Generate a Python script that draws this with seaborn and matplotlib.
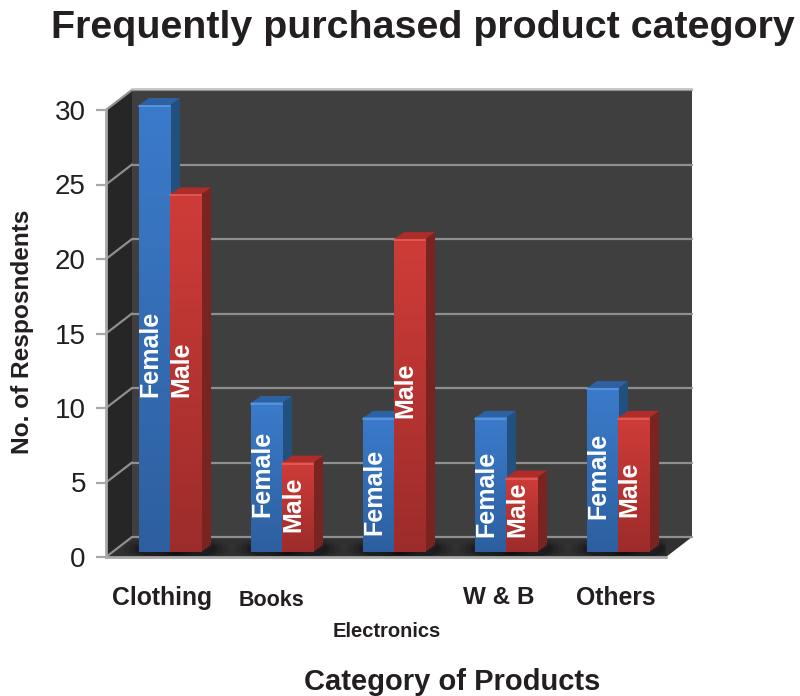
import numpy as np
import pandas as pd
import matplotlib
matplotlib.use("Agg")
import matplotlib.pyplot as plt
from matplotlib.colors import LinearSegmentedColormap
from matplotlib.patches import Polygon, Ellipse
from matplotlib.transforms import Affine2D, IdentityTransform
import seaborn as sns

categories = ["Clothing", "Books", "Electronics", "W & B", "Others"]
female = [30, 10, 9, 9, 11]
male = [24, 6, 21, 5, 9]
female_label_base = [10.4, 2.35, 1.15, 1.0, 2.2]
male_label_base = [10.4, 1.35, 9.0, 1.0, 2.35]
yticks = [0, 5, 10, 15, 20, 25, 30]

sns.set_theme(style="white")
plt.rcParams["font.family"] = ["Liberation Sans", "DejaVu Sans"]
W, H = 800, 696
fig = plt.figure(figsize=(W / 100, H / 100), dpi=100, facecolor="white")
# front plane of the 3-D box, given in image pixels
L, R, T, B = 106, 666, 110, 557
ax = fig.add_axes([L / W, 1 - B / H, (R - L) / W, (B - T) / H])
ax.patch.set_alpha(0)

df = pd.DataFrame({
    "category": categories * 2,
    "gender": ["Female"] * 5 + ["Male"] * 5,
    "value": female + male,
})
sns.barplot(data=df, x="category", y="value", hue="gender", hue_order=["Female", "Male"],
            palette=["#3570b8", "#c23531"], width=0.555, gap=0, saturation=1,
            legend=False, ax=ax, zorder=3, linewidth=0)
bars = list(ax.patches)
ax.set_xlim(-0.5, 4.5)
ax.set_ylim(0, 30)

DX, DY = 26, 20        # depth of the box
BX, BY = 8, 5          # bars stand this far inside the box
SX, SY = 10, 7         # depth of each bar
bar_off = ax.transData + Affine2D().translate(BX, BY)
label_off = ax.transData + Affine2D().translate(BX - 4, BY)
ident = IdentityTransform()


def poly(pts, color, z, **kw):
    patch = Polygon(pts, closed=True, facecolor=color, edgecolor="none", linewidth=0,
                    transform=ident, zorder=z, clip_on=False, **kw)
    ax.add_patch(patch)
    return patch


def disp(x, y):
    return ax.transData.transform((x, y))


x0, x1 = ax.get_xlim()
bl, br = disp(x0, 0), disp(x1, 0)
tl = disp(x0, 30)
d = np.array([DX, DY])
poly([bl, bl + d, tl + d, tl], "#262626", 0.5)                 # side wall
poly([bl + d, br + d, disp(x1, 30) + d, tl + d], "#3f3f3f", 0.5)  # back wall
floor = poly([bl, br, br + d, bl + d], "#303030", 0.6)         # floor

for v in yticks:
    a = disp(x0, v)
    b = disp(x1, v)
    col = "#8f8f8f"
    ax.plot([a[0] + DX, b[0] + DX], [a[1] + DY, b[1] + DY], color=col, lw=1.6,
            transform=ident, zorder=0.8, clip_on=False)
    ax.plot([a[0], a[0] + DX], [a[1], a[1] + DY], color=col, lw=1.6,
            transform=ident, zorder=0.8, clip_on=False)
ax.plot([tl[0] + DX, disp(x1, 30)[0] + DX], [tl[1] + DY + 1] * 2, color="#c8c8c8", lw=1.4,
        transform=ident, zorder=0.9, clip_on=False)

cm_b = LinearSegmentedColormap.from_list("b", ["#2d5f9f", "#3b7bcb"])
cm_r = LinearSegmentedColormap.from_list("r", ["#9c2c2a", "#cf3c38"])
grad = np.linspace(1, 0, 256).reshape(-1, 1)

n = len(categories)
for i, p in enumerate(bars):
    is_f = i < n
    p.set_transform(bar_off)
    p.set_clip_on(False)
    z = 3 if is_f else 4
    p.set_zorder(z + 0.1)
    x, w, h = p.get_x(), p.get_width(), p.get_height()
    ll = bar_off.transform((x, 0))
    lr = bar_off.transform((x + w, 0))
    ul = bar_off.transform((x, h))
    ur = bar_off.transform((x + w, h))
    s = np.array([SX, SY])
    # floor shadow, kept on the floor
    for grow, alpha in ((1.5, .10), (1.25, .14), (1.05, .18)):
        sh = Ellipse(((ll[0] + lr[0]) / 2 + 6, ll[1] + 3), (lr[0] - ll[0] + 18) * grow, 14 * grow,
                     facecolor="black", alpha=alpha, edgecolor="none", linewidth=0,
                     transform=ident, zorder=1)
        ax.add_patch(sh)
        sh.set_clip_path(floor)
    poly([lr, lr + s, ur + s, ur], "#24507f" if is_f else "#7a2421", z)
    poly([ul, ur, ur + s, ul + s], "#2c62a4" if is_f else "#ae2c2a", z)
    im = ax.imshow(grad, cmap=cm_b if is_f else cm_r, extent=[x, x + w, 0, h], aspect="auto",
                   transform=bar_off, zorder=z + 0.2, clip_on=False)
    ax.plot([ul[0], ur[0]], [ul[1] - 1] * 2, color="#5f97dc" if is_f else "#e0605a", lw=1.2,
            transform=ident, zorder=z + 0.3, clip_on=False)
    base = (female_label_base if is_f else male_label_base)[i % n]
    ax.text(x + w / 2, base, "Female" if is_f else "Male", rotation=90, color="white",
            fontsize=18, fontweight="bold", ha="center", va="bottom", transform=label_off,
            zorder=z + 0.4, clip_on=False)

ax.set_xlim(-0.5, 4.5)
ax.set_ylim(0, 30)

# axes furniture
for side in ("top", "right"):
    ax.spines[side].set_visible(False)
for side in ("left", "bottom"):
    ax.spines[side].set_color("#a8a8a8")
    ax.spines[side].set_linewidth(2)
    ax.spines[side].set_zorder(2)
ax.set_yticks(yticks)
ax.tick_params(axis="y", length=7.5, width=1.6, color="#a8a8a8", labelsize=20,
               labelcolor="#231f20", pad=7, left=True)
ax.tick_params(axis="x", length=0, labelsize=16, labelcolor="#231f20")
ax.set_xticks(range(n))
ax.set_xticklabels(categories, fontweight="bold")

sizes = [17.8, 15.5, 14.5, 17.5, 17.8]
pads = [21, 23.5, 47, 21, 21]
shift = [0, -3, 1, 1, 6]
for t, sz, pd_, sh in zip(ax.xaxis.get_major_ticks(), sizes, pads, shift):
    t.set_pad(pd_)
    t.label1.set_fontsize(sz)
    t.label1.set_transform(t.label1.get_transform() + Affine2D().translate(sh, 0))

ax.set_xlabel("Category of Products", fontsize=21, fontweight="bold", color="#231f20")
ax.set_ylabel("No. of Resposndents", fontsize=17.6, fontweight="bold", color="#231f20")
ax.xaxis.set_label_coords(452 / W, 1 - 682 / H, transform=fig.transFigure)
ax.xaxis.label.set_va("center")
ax.yaxis.set_label_coords(23 / W, 1 - 332 / H, transform=fig.transFigure)
ax.yaxis.label.set_va("center")
ax.set_title("Frequently purchased product category", fontsize=28.4, fontweight="bold",
             color="#231f20", x=(423 - L) / (R - L), y=1 + (110 - 36) / (B - T), va="center")

fig.savefig("out.png", dpi=100)
